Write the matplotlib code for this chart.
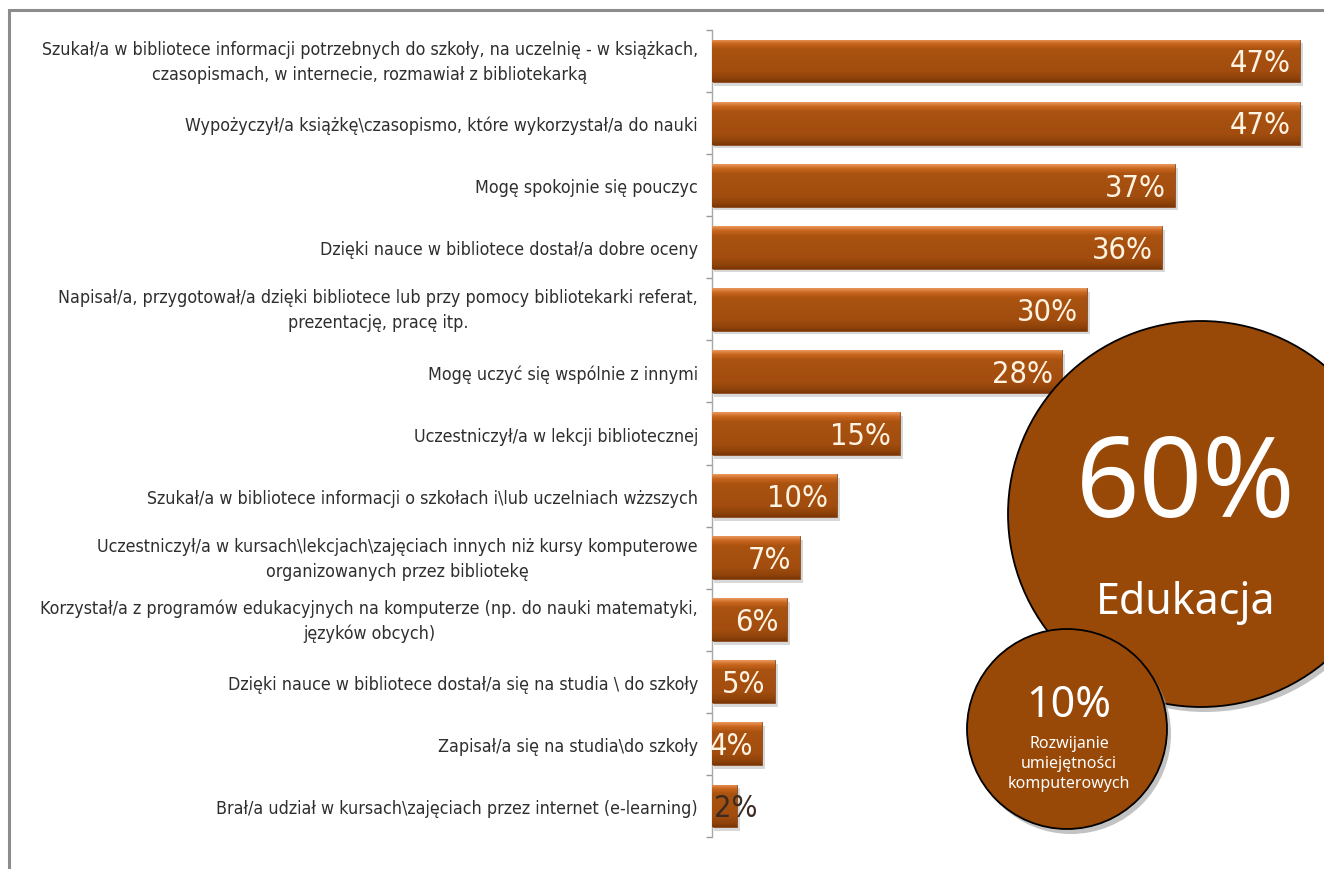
import matplotlib
matplotlib.use("Agg")
import matplotlib.pyplot as plt
import numpy as np
from matplotlib.patches import Circle, Rectangle
from matplotlib.colors import LinearSegmentedColormap
from matplotlib import font_manager
from matplotlib.font_manager import FontProperties
from matplotlib.transforms import ScaledTranslation

categories = [
    "Szukał/a w bibliotece informacji potrzebnych do szkoły, na uczelnię - w książkach,\nczasopismach, w internecie, rozmawiał z bibliotekarką",
    "Wypożyczył/a książkę\\czasopismo, które wykorzystał/a do nauki",
    "Mogę spokojnie się pouczyc",
    "Dzięki nauce w bibliotece dostał/a dobre oceny",
    "Napisał/a, przygotował/a dzięki bibliotece lub przy pomocy bibliotekarki referat,\nprezentację, pracę itp.",
    "Mogę uczyć się wspólnie z innymi",
    "Uczestniczył/a w lekcji bibliotecznej",
    "Szukał/a w bibliotece informacji o szkołach i\\lub uczelniach wżzszych",
    "Uczestniczył/a w kursach\\lekcjach\\zajęciach innych niż kursy komputerowe\norganizowanych przez bibliotekę",
    "Korzystał/a z programów edukacyjnych na komputerze (np. do nauki matematyki,\njęzyków obcych)",
    "Dzięki nauce w bibliotece dostał/a się na studia \\ do szkoły",
    "Zapisał/a się na studia\\do szkoły",
    "Brał/a udział w kursach\\zajęciach przez internet (e-learning)",
]
values = [47, 47, 37, 36, 30, 28, 15, 10, 7, 6, 5, 4, 2]

big_value = "60%"
big_label = "Edukacja"
small_value = "10%"
small_label = "Rozwijanie\numiejętności\nkomputerowych"

# pick a condensed face when one is installed
cond_path = font_manager.findfont(FontProperties(family="DejaVu Sans", stretch="condensed"))
if "Condensed" in cond_path:
    narrow_fp = FontProperties(fname=cond_path)
else:
    narrow_fp = FontProperties(family="Liberation Sans")
available = {f.name for f in font_manager.fontManager.ttflist}
round_font = [f for f in ["Noto Sans", "Open Sans", "DejaVu Sans"] if f in available][:1] or ["DejaVu Sans"]

W, H = 1324, 870
fig = plt.figure(figsize=(W / 100, H / 100), dpi=100)
fig.patch.set_facecolor("white")

# outer frame of the chart area
frame_ax = fig.add_axes([0, 0, 1, 1], zorder=0)
frame_ax.set_xlim(0, W)
frame_ax.set_ylim(H, 0)
frame_ax.axis("off")
frame_ax.add_patch(Rectangle((9, 11), W + 20, H + 20, facecolor="white",
                             edgecolor="#8c8c8c", linewidth=2.2))

# bar chart
ax = fig.add_axes([712 / W, 1 - 838 / H, (W - 712) / W, 807 / H], zorder=1)
ax.patch.set_alpha(0)
n = len(values)
y = np.arange(n)
bar_h = 0.69
xmax = (W - 712) / 12.5
ax.set_xlim(0, xmax)
ax.set_ylim(n - 0.5, -0.5)

grad = LinearSegmentedColormap.from_list(
    "bar", [(0.0, "#e9955a"), (0.10, "#c8661d"), (0.22, "#aa5311"),
            (0.75, "#a24d0f"), (0.92, "#8e420a"), (1.0, "#7a3706")])
gimg = np.linspace(0, 1, 64).reshape(-1, 1)

for yi, v in zip(y, values):
    # soft shadow below and right of the bar
    ax.add_patch(Rectangle((0.15, yi - bar_h / 2 + 0.06), v + 0.1, bar_h,
                           facecolor="#b9b9b9", edgecolor="none", alpha=0.55, zorder=1))
    bars = ax.barh(yi, v, height=bar_h, color="#a44f10", edgecolor="#8a4a20",
                   linewidth=0.6, zorder=2)
    patch = bars[0]
    im = ax.imshow(gimg, cmap=grad, aspect="auto",
                   extent=(0, v, yi + bar_h / 2, yi - bar_h / 2), zorder=3,
                   interpolation="bilinear")
    im.set_clip_path(patch)

lab_fp = narrow_fp.copy()
lab_fp.set_size(22)
for yi, v in zip(y, values):
    txt = f"{v}%"
    if v >= 4:
        ax.text(v - 0.7, yi + 0.03, txt, ha="right", va="center",
                fontproperties=lab_fp, color="#fff3e2", zorder=5)
    else:
        ax.text(v - 0.1, yi + 0.03, txt, ha="center", va="center",
                fontproperties=lab_fp, color="#3a2a22", zorder=5)

cat_fp = narrow_fp.copy()
cat_fp.set_size(12.8)
ax.set_yticks(np.arange(n + 1) - 0.5, minor=True)
ax.set_yticks(y)
ax.set_yticklabels(categories, fontproperties=cat_fp, color="#2e2e2e",
                   multialignment="center", linespacing=1.5)
ax.tick_params(axis="y", which="major", length=0, pad=10)
ax.tick_params(axis="y", which="minor", length=4, color="#9a9a9a", width=1)
# two-line labels sit a little higher than their bar centre
for lbl in ax.get_yticklabels():
    if "\n" in lbl.get_text():
        lbl.set_transform(lbl.get_transform() + ScaledTranslation(0, 0.05, fig.dpi_scale_trans))
ax.set_xticks([])
for s in ["top", "right", "bottom"]:
    ax.spines[s].set_visible(False)
ax.spines["left"].set_color("#a8a8a8")
ax.spines["left"].set_linewidth(1)

# summary circles
over = fig.add_axes([0, 0, 1, 1], zorder=3)
over.set_xlim(0, W)
over.set_ylim(H, 0)
over.axis("off")
over.patch.set_alpha(0)

circ_color = "#984807"
for (cx, cy, r) in [(1201, 515, 193), (1067, 730, 100)]:
    over.add_patch(Circle((cx + 4, cy + 5), r, facecolor="#9c9c9c", edgecolor="none",
                          alpha=0.6))
    over.add_patch(Circle((cx, cy), r, facecolor=circ_color, edgecolor="black",
                          linewidth=1.3))

over.text(1186, 488, big_value, ha="center", va="center", fontsize=80,
          family=round_font, color="white")
over.text(1186, 603, big_label, ha="center", va="center", fontsize=31,
          family=round_font, color="white")
over.text(1069, 706, small_value, ha="center", va="center", fontsize=31,
          family=round_font, color="white")
over.text(1069, 764, small_label, ha="center", va="center", fontsize=11.5,
          family=round_font, color="white", linespacing=1.3)

fig.savefig("out.png", dpi=100, facecolor="white")
